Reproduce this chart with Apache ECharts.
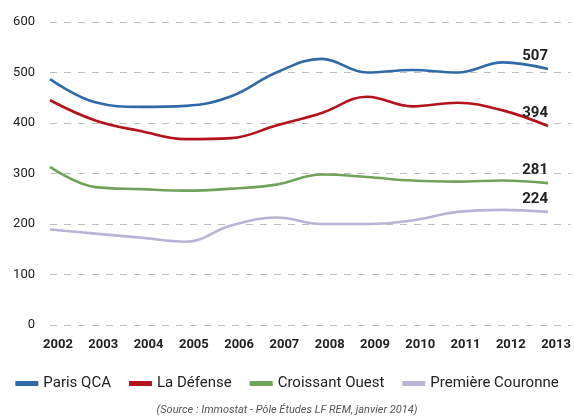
<!DOCTYPE html>
<html>
<head>
<meta charset="utf-8">
<script src="https://cdn.jsdelivr.net/npm/echarts@6/dist/echarts.min.js"></script>
<style>
  html, body { margin: 0; padding: 0; background: #fff; }
  #chart { width: 574px; height: 419px; }
</style>
</head>
<body>
<div id="chart"></div>
<script>
const years = [2002, 2003, 2004, 2005, 2006, 2007, 2008, 2009, 2010, 2011, 2012, 2013];
const parisQCA = [487, 441, 432, 434, 453, 500, 527, 500, 505, 500, 520, 507];
const laDefense = [445, 405, 384, 368, 370, 395, 420, 452, 433, 440, 425, 394];
const croissantOuest = [313, 273, 269, 266, 270, 278, 298, 293, 286, 284, 286, 281];
const premiereCouronne = [189, 181, 173, 165, 197, 213, 200, 200, 207, 224, 228, 224];

const font = "Roboto, sans-serif";

function makeSeries(name, values, color) {
  return {
    name: name,
    type: 'line',
    smooth: 0.4,
    symbol: 'none',
    data: values.map((v, i) => [years[i], v]),
    lineStyle: { color: color, width: 2.6 },
    itemStyle: { color: color },
    endLabel: {
      show: true,
      formatter: p => String(p.value[1]),
      align: 'right',
      verticalAlign: 'bottom',
      distance: 0,
      offset: [0, -5],
      color: '#222',
      fontWeight: 'bold',
      fontSize: 15,
      fontFamily: font
    }
  };
}

const chart = echarts.init(document.getElementById('chart'));
chart.setOption({
  animation: false,
  grid: { left: 50, right: 0, top: 22, bottom: 94 },
  xAxis: {
    type: 'value',
    min: 2002,
    max: 2013.5,
    interval: 1,
    axisLine: { show: false },
    axisTick: { show: false },
    splitLine: { show: false },
    axisLabel: {
      showMaxLabel: false,
      color: '#222',
      fontWeight: 'bold',
      fontSize: 13,
      fontFamily: font,
      margin: 13,
      padding: [0, 0, 0, 16],
      formatter: v => (v % 1 === 0 ? String(v) : '')
    }
  },
  yAxis: {
    type: 'value',
    min: 0,
    max: 600,
    interval: 100,
    axisLine: { show: false },
    axisTick: { show: false },
    axisLabel: {
      color: '#222',
      fontSize: 13,
      fontFamily: font,
      margin: 15
    },
    splitLine: {
      lineStyle: { color: '#bdbdbd', type: [7, 7], width: 1 }
    }
  },
  legend: {
    bottom: 23,
    left: 'center',
    itemWidth: 23,
    itemHeight: 5,
    itemGap: 18,
    icon: 'rect',
    textStyle: { color: '#222', fontSize: 15, fontFamily: font },
    data: ['Paris QCA', 'La Défense', 'Croissant Ouest', 'Première Couronne']
  },
  graphic: [{
    type: 'text',
    left: 'center',
    top: 405,
    style: {
      text: '(Source : Immostat - Pôle Études LF REM, janvier 2014)',
      fill: '#555',
      font: 'italic 11px Roboto, sans-serif'
    }
  }],
  series: [
    makeSeries('Paris QCA', parisQCA, '#2f6aa8'),
    makeSeries('La Défense', laDefense, '#b5121b'),
    makeSeries('Croissant Ouest', croissantOuest, '#6fa35a'),
    makeSeries('Première Couronne', premiereCouronne, '#bab3d6')
  ]
});
</script>
</body>
</html>
